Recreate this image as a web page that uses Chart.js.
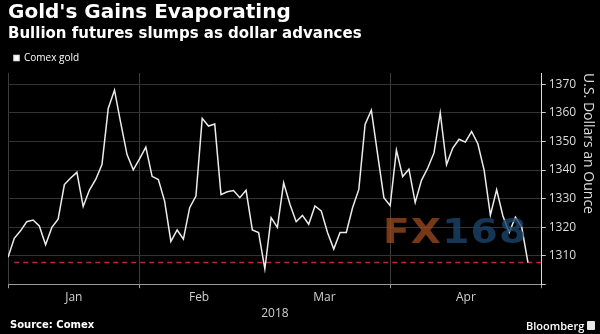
<!DOCTYPE html>
<html>
<head>
<meta charset="utf-8">
<script src="https://cdn.jsdelivr.net/npm/chart.js@4/dist/chart.umd.min.js"></script>
<style>
  html, body { margin: 0; padding: 0; background: #000; }
  #wrap { position: relative; width: 600px; height: 334px; overflow: hidden; background: #000; }
  #chart { position: absolute; left: 0; top: 0; }
  .foot { position: absolute; color: #fff; white-space: nowrap; }
  #src { left: 10px; top: 319px; font: bold 10px "DejaVu Sans", sans-serif; }
  #brand { left: 526px; top: 318px; font: 600 11px "Open Sans", sans-serif; }
  #logo { position: absolute; left: 587px; top: 321px; width: 8px; height: 9px; background: #e8e8e8; border-radius: 1px; }
  #mark { position: absolute; left: 383px; top: 214px; font: bold 34px/1 "DejaVu Sans", sans-serif; pointer-events: none; transform: scaleX(1.15); transform-origin: left top; }
  #mark .fx { color: rgba(165, 78, 32, 0.72); letter-spacing: 1px; }
  #mark .num { color: rgba(28, 68, 108, 0.8); letter-spacing: 1px; }
</style>
</head>
<body>
<div id="wrap">
  <canvas id="chart" width="600" height="334"></canvas>
  <div class="foot" id="src">Source: Comex</div>
  <div class="foot" id="brand">Bloomberg</div>
  <div id="logo"></div>
  <div id="mark"><span class="fx">FX</span><span class="num">168</span></div>
</div>
<script>
// Comex gold front-month settlements, one value per trading day (USD/oz)
const janDays = [2, 3, 4, 5, 8, 9, 10, 11, 12, 16, 17, 18, 19, 22, 23, 24, 25, 26, 29, 30, 31];
const febDays = [1, 2, 5, 6, 7, 8, 9, 12, 13, 14, 15, 16, 20, 21, 22, 23, 26, 27, 28];
const marDays = [1, 2, 5, 6, 7, 8, 9, 12, 13, 14, 15, 16, 19, 20, 21, 22, 23, 26, 27, 28, 29];
const aprDays = [2, 3, 4, 5, 6, 9, 10, 11, 12, 13, 16, 17, 18, 19, 20, 23, 24, 25, 26, 27, 30];
const mayDays = [1, 2];

const monthNames = ['Jan', 'Feb', 'Mar', 'Apr'];
const gridMonths = ['Jan', 'Feb', 'Apr'];

const goldPrices = [
  1309.4, 1316.1, 1318.7, 1321.9, 1322.5, 1320.4, 1313.8, 1319.9, 1322.8, 1334.9,
  1337.2, 1339.2, 1327.2, 1333.0, 1336.7, 1341.9, 1361.6, 1368.0, 1356.4, 1345.4,
  1340.1, 1343.9, 1348.0, 1337.8, 1336.7, 1329.1, 1315.0, 1319.0, 1315.8, 1326.8,
  1330.9, 1358.1, 1355.4, 1356.1, 1331.4, 1332.4, 1332.8, 1330.3, 1332.9, 1319.0,
  1318.1, 1305.4, 1323.3, 1319.9, 1335.5, 1328.0, 1321.9, 1324.1, 1321.0, 1327.4,
  1325.7, 1318.1, 1312.3, 1318.1, 1318.1, 1326.8, 1333.2, 1356.0, 1361.0, 1345.5,
  1330.3, 1327.5, 1347.0, 1337.7, 1340.3, 1328.6, 1336.4, 1340.7, 1346.0, 1360.0,
  1341.9, 1347.7, 1350.8, 1349.8, 1353.5, 1349.2, 1340.0, 1324.2, 1333.1, 1323.9,
  1318.1, 1323.5, 1320.0, 1307.6
];

const yTickValues = [1300, 1305, 1310, 1315, 1320, 1325, 1330, 1335, 1340, 1345, 1350, 1355, 1360, 1365, 1370];

// trading-day dates for each point
const monthDays = [janDays, febDays, marDays, aprDays, mayDays];
const dates = [];
monthDays.forEach((days, m) => days.forEach(d => dates.push(new Date(2018, m, d))));

// x runs in trading-day index; axis keeps a little room after the last session
const lastIdx = goldPrices.length - 1;
const xMax = lastIdx + 2.2;

// first index of each labelled month
const monthStart = monthNames.map((_, m) => dates.findIndex(d => d.getMonth() === m));
const boundaryTicks = monthStart.filter((_, m) => gridMonths.includes(monthNames[m]));
const labelTicks = new Map();
monthStart.forEach((s, m) => {
  const e = m + 1 < monthStart.length ? monthStart[m + 1] : xMax;
  labelTicks.set((s + e) / 2, monthNames[m]);
});
const xTickValues = [...boundaryTicks, ...labelTicks.keys(), xMax].sort((a, b) => a - b);

const lastPrice = goldPrices[lastIdx];

const tickFont = { family: 'Open Sans', size: 12 };

new Chart(document.getElementById('chart'), {
  type: 'line',
  data: {
    datasets: [
      {
        label: 'Comex gold',
        data: goldPrices.map((v, i) => ({ x: i, y: v })),
        borderColor: '#ececec',
        backgroundColor: '#ffffff',
        borderWidth: 1.5,
        pointRadius: 0,
        tension: 0
      },
      {
        label: 'Latest',
        data: [{ x: 1, y: lastPrice }, { x: xMax, y: lastPrice }],
        borderColor: '#c0292b',
        borderWidth: 1.5,
        borderDash: [5, 4],
        pointRadius: 0
      }
    ]
  },
  options: {
    responsive: false,
    animation: false,
    layout: { padding: { left: 8, right: 0, top: 0, bottom: 13 } },
    plugins: {
      title: {
        display: true,
        text: "Gold's Gains Evaporating",
        align: 'start',
        color: '#ffffff',
        font: { family: 'DejaVu Sans', size: 20, weight: 'bold' },
        padding: { top: 1, bottom: 0 }
      },
      subtitle: {
        display: true,
        text: 'Bullion futures slumps as dollar advances',
        align: 'start',
        color: '#ffffff',
        font: { family: 'DejaVu Sans', size: 15, weight: 'bold' },
        padding: { top: 0, bottom: 4 }
      },
      legend: {
        display: true,
        align: 'start',
        labels: {
          filter: item => item.datasetIndex === 0,
          color: '#ffffff',
          boxWidth: 5,
          boxHeight: 5,
          padding: 6,
          font: { family: 'Open Sans', size: 10 }
        }
      },
      tooltip: { enabled: false }
    },
    scales: {
      x: {
        type: 'linear',
        min: 0,
        max: xMax,
        afterBuildTicks: scale => { scale.ticks = xTickValues.map(v => ({ value: v })); },
        ticks: {
          autoSkip: false,
          maxRotation: 0,
          color: '#d0d0d0',
          font: tickFont,
          padding: 2,
          callback: v => labelTicks.get(v) || ''
        },
        grid: {
          color: ctx => boundaryTicks.includes(ctx.tick.value) ? '#3c3c3c' : 'rgba(0,0,0,0)',
          tickColor: ctx => (boundaryTicks.includes(ctx.tick.value) || ctx.tick.value === xMax) ? '#9a9a9a' : 'rgba(0,0,0,0)',
          tickLength: 4
        },
        border: { color: '#9a9a9a', width: 1 },
        title: {
          display: true,
          text: '2018',
          color: '#d0d0d0',
          font: tickFont,
          padding: { top: 0, bottom: 0 }
        }
      },
      y: {
        position: 'right',
        min: 1300,
        max: 1374,
        afterBuildTicks: scale => { scale.ticks = yTickValues.map(v => ({ value: v })); },
        ticks: {
          color: '#dcdcdc',
          font: tickFont,
          padding: 3,
          callback: v => (v % 10 === 0 && v > 1300) ? String(v) : ''
        },
        grid: {
          color: ctx => (ctx.tick.value % 10 === 0 && ctx.tick.value > 1300) ? '#333333' : 'rgba(0,0,0,0)',
          tickColor: '#cfcfcf',
          tickLength: 4
        },
        border: { color: '#dcdcdc', width: 1 },
        title: {
          display: true,
          text: 'U.S. Dollars an Ounce',
          align: 'end',
          color: '#dcdcdc',
          font: { family: 'Open Sans', size: 14 },
          padding: { top: 4, bottom: 0 }
        }
      }
    }
  }
});
</script>
</body>
</html>
